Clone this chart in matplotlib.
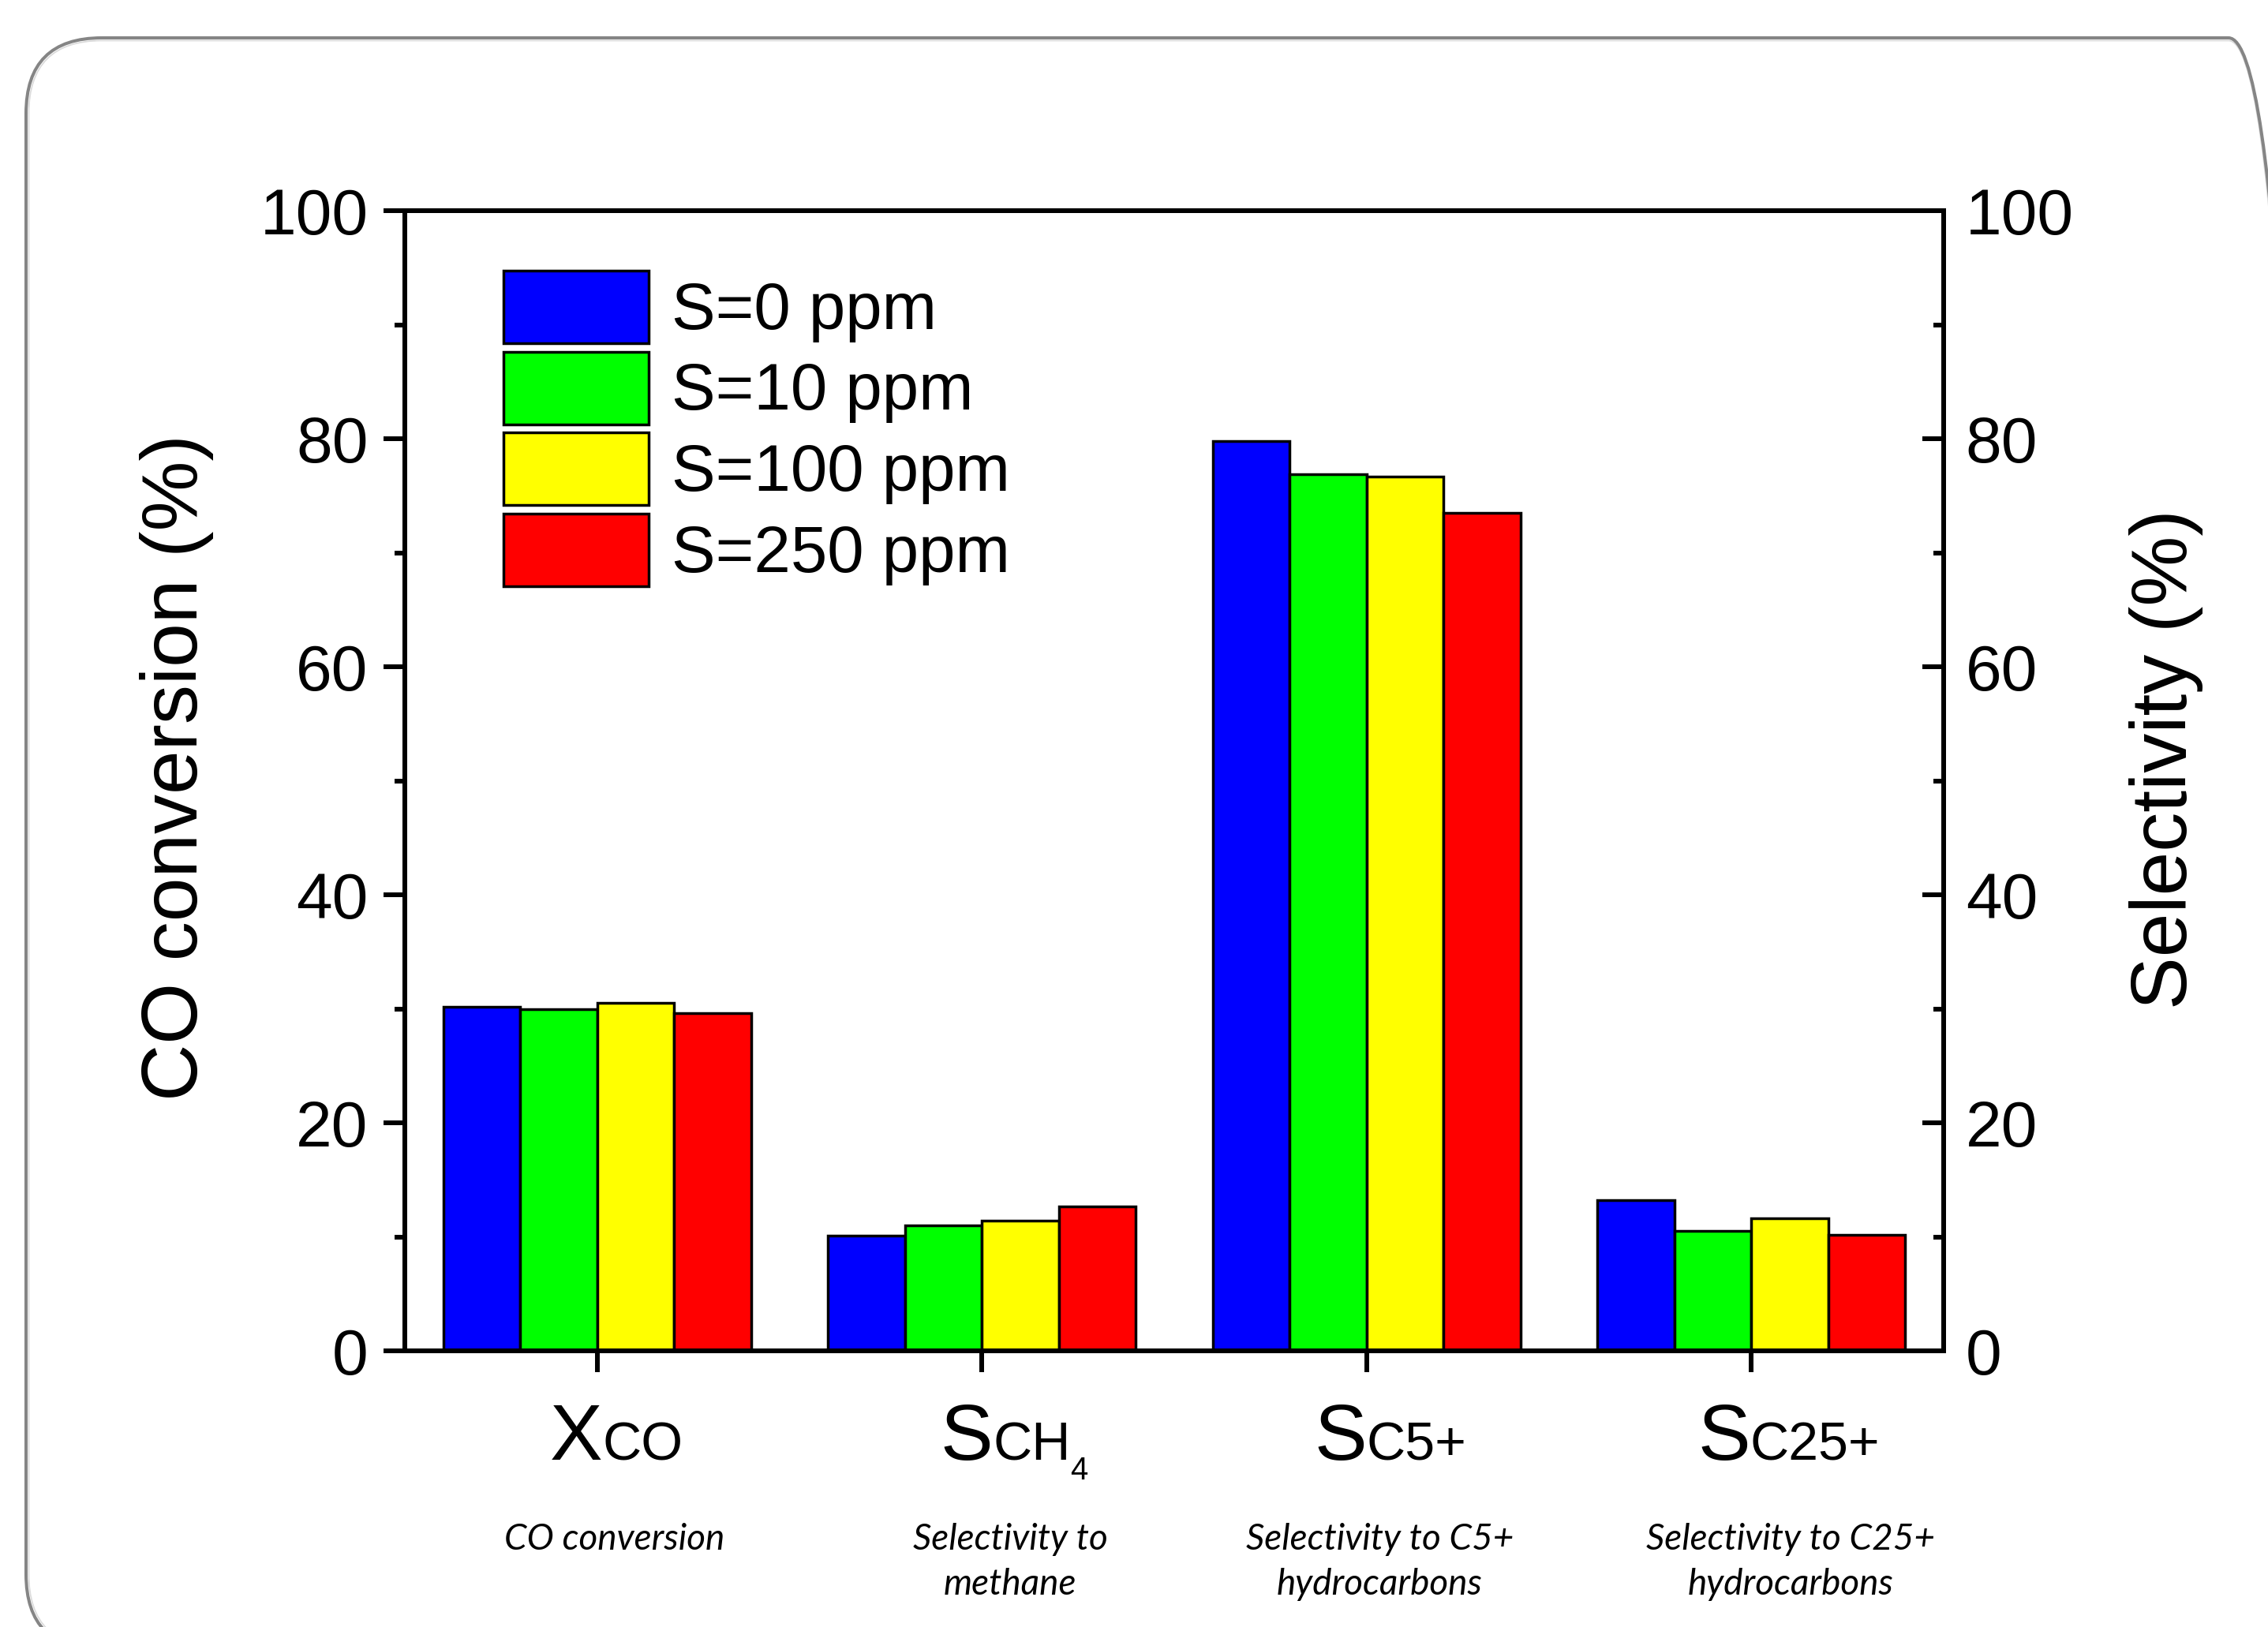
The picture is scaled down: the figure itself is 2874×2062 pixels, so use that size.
import matplotlib
matplotlib.use("Agg")
import matplotlib.pyplot as plt
from matplotlib.patches import FancyBboxPatch
from matplotlib.ticker import MultipleLocator
import numpy as np

plt.rcParams['font.family'] = ['Liberation Sans', 'DejaVu Sans']

# categories along the x axis
categories = ["CO conversion", "Selectivity to\nmethane",
              "Selectivity to C5+\nhydrocarbons", "Selectivity to C25+\nhydrocarbons"]
label_main = ["X", "S", "S", "S"]
label_sub = ["CO", "CH", "C5+", "C25+"]
label_subsub = ["", "4", "", ""]

# sulfur levels (series)
sulfur_levels = ["S=0 ppm", "S=10 ppm", "S=100 ppm", "S=250 ppm"]
bar_colors = ["#0000FF", "#00FF00", "#FFFF00", "#FF0000"]

s0 = [30.2, 10.1, 79.8, 13.2]
s10 = [30.0, 11.0, 76.9, 10.5]
s100 = [30.5, 11.4, 76.7, 11.6]
s250 = [29.6, 12.7, 73.5, 10.2]

y_ticks = [0, 20, 40, 60, 80, 100]

# small horizontal nudges (points) of the hand-placed category labels
label_nudge = [5, 10, 0, -1]
desc_nudge = [16, 26, 12, 36]


def main():
    fig = plt.figure(figsize=(28.74, 20.62), dpi=100)
    ax = fig.add_axes([0.1785, 0.1697, 0.857 - 0.1785, 0.8705 - 0.1697])

    x = np.arange(len(categories))
    width = 0.2
    series = [s0, s10, s100, s250]
    for k, (vals, lab, col) in enumerate(zip(series, sulfur_levels, bar_colors)):
        ax.bar(x + (k - 1.5) * width, vals, width, color=col,
               edgecolor='black', linewidth=2.5, label=lab, zorder=2)

    ax.set_xlim(-0.5, 3.5)
    ax.set_ylim(0, 100)
    for s in ax.spines.values():
        s.set_linewidth(4.3)

    ax.set_yticks(y_ticks)
    ax.yaxis.set_minor_locator(MultipleLocator(10))
    ax.tick_params(axis='y', which='major', direction='out', length=19.5,
                   width=4.3, labelsize=59, pad=14, right=False)
    ax.tick_params(axis='y', which='minor', direction='out', length=9.5,
                   width=4.3, right=False)
    ax.set_xticks(x)
    ax.set_xticklabels([])
    ax.tick_params(axis='x', direction='out', length=19.5, width=4.3, top=False)

    # right axis
    ax2 = ax.twinx()
    ax2.set_ylim(0, 100)
    ax2.set_yticks(y_ticks)
    ax2.yaxis.set_minor_locator(MultipleLocator(10))
    ax2.tick_params(axis='y', which='major', direction='in', length=19.5,
                    width=4.3, labelsize=59, pad=20)
    ax2.tick_params(axis='y', which='minor', direction='in', length=9.5, width=4.3)
    for s in ax2.spines.values():
        s.set_linewidth(4.3)

    ax.set_ylabel("CO conversion (%)", fontsize=72, va='center')
    ax.yaxis.set_label_coords(-0.148, 0.512)
    ax2.set_ylabel("Selectivity (%)", fontsize=72, va='center')
    ax2.yaxis.set_label_coords(1.1446, 0.519)

    ax.legend(loc='upper left', bbox_to_anchor=(0.222, 0.8337),
              bbox_transform=fig.transFigure, frameon=False, fontsize=60,
              handlelength=2.21, handleheight=1.32, handletextpad=0.35,
              labelspacing=0.13, borderpad=0, borderaxespad=0)

    # category labels: big letter + smaller suffix, then italic description
    trans = ax.get_xaxis_transform()
    y_base = -0.0955
    y_sub = -0.1128
    y_desc = -0.151
    for i in range(len(categories)):
        big = ax.annotate(label_main[i], xy=(x[i], y_base), xycoords=trans,
                          xytext=(label_nudge[i], 0), textcoords='offset points',
                          fontsize=72, ha='right', va='baseline')
        small = ax.annotate(label_sub[i], xy=(1, y_base),
                            xycoords=(big, 'axes fraction'), fontsize=49,
                            ha='left', va='baseline')
        if label_subsub[i]:
            ax.annotate(label_subsub[i], xy=(1, y_sub),
                        xycoords=(small, 'axes fraction'), fontsize=29,
                        ha='left', va='baseline')
        ax.annotate(categories[i], xy=(x[i], y_desc), xycoords=trans,
                    xytext=(desc_nudge[i], 0), textcoords='offset points',
                    fontsize=33, style='italic', family=['Lato', 'DejaVu Sans'],
                    ha='center', va='top', linespacing=1.44)

    # rounded gray frame around the figure
    frame = FancyBboxPatch((0.33, -0.29), 29.2 - 0.33, 20.14 + 0.29,
                           boxstyle="round,pad=0,rounding_size=0.96",
                           transform=fig.dpi_scale_trans, fill=False,
                           edgecolor='#858585', linewidth=2.9, clip_on=False)
    shade = FancyBboxPatch((0.365, -0.255), 29.2 - 0.33 - 0.07, 20.14 + 0.29 - 0.07,
                           boxstyle="round,pad=0,rounding_size=0.925",
                           transform=fig.dpi_scale_trans, fill=False,
                           edgecolor='#dadada', linewidth=1.2, clip_on=False)
    fig.add_artist(shade)
    fig.add_artist(frame)

    fig.savefig("out.png", dpi=100)


if __name__ == "__main__":
    main()
